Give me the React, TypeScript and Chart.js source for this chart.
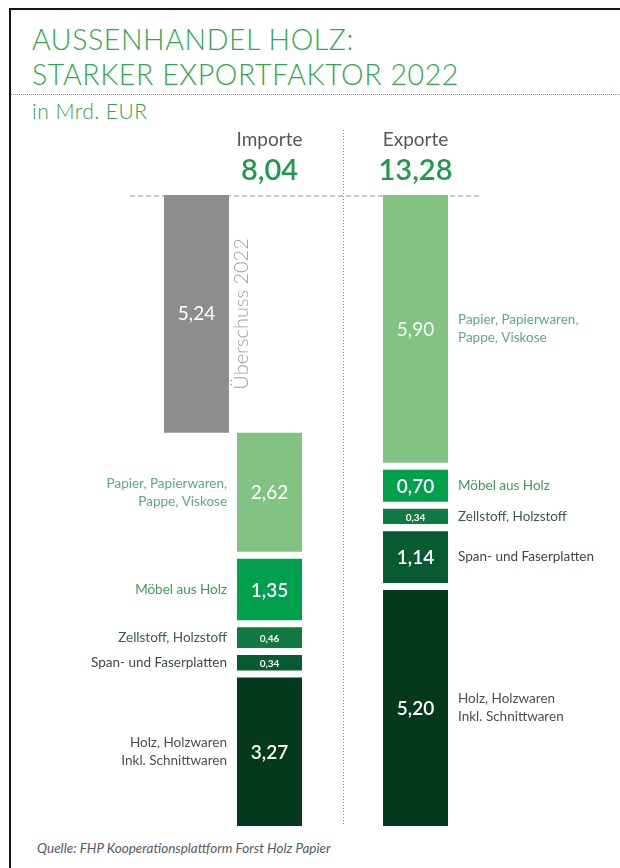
import React, { useEffect, useRef } from 'react';
import { Chart, registerables } from 'chart.js';

Chart.register(...registerables);

// ---- data ----
const columns = ['Überschuss 2022', 'Importe', '', 'Exporte'];
const categories = [
  'Holz, Holzwaren\nInkl. Schnittwaren',
  'Span- und Faserplatten',
  'Zellstoff, Holzstoff',
  'Möbel aus Holz',
  'Papier, Papierwaren,\nPappe, Viskose',
];
const importValues = [3.27, 0.34, 0.46, 1.35, 2.62];
const exportValues = [5.2, 1.14, 0.34, 0.7, 5.9];

// ---- styles ----
const barColors = ['#05391d', '#085a31', '#117a40', '#00a04d', '#82c383'];
const labelColors = ['#4b4d55', '#3d4a44', '#3c5a4a', '#3c9a5a', '#5aaa80'];
const valueWeights = ['600', '600', '600', '600', '400'];
const surplusColor = '#8e8d8c';
const GAP = 0.155; // visual gap between segments (value units)
const FONT = 'Lato, "Open Sans", sans-serif';

const fmt = (v: number) => v.toFixed(2).replace('.', ',');
const sum = (a: number[]) => a.reduce((s, v) => s + v, 0);

export default function App() {
  const canvasRef = useRef<HTMLCanvasElement | null>(null);

  useEffect(() => {
    const canvas = canvasRef.current;
    if (!canvas) return;

    const importTotal = sum(importValues);
    const exportTotal = sum(exportValues);

    let iStart = 0;
    let eStart = 0;
    const datasets: any[] = categories.map((c, i) => {
      const imp = [iStart, iStart + importValues[i]];
      iStart += importValues[i] + GAP;
      const exp = [eStart, eStart + exportValues[i]];
      eStart += exportValues[i] + GAP;
      return {
        label: c,
        data: [null, imp, null, exp],
        backgroundColor: barColors[i],
        grouped: false,
        categoryPercentage: 1,
        barPercentage: 0.89,
        borderWidth: 0,
      };
    });
    const importTop = iStart - GAP;
    const exportTop = eStart - GAP;
    datasets.push({
      label: columns[0],
      data: [[importTop, exportTop], null, null, null],
      backgroundColor: surplusColor,
      grouped: false,
      categoryPercentage: 1,
      barPercentage: 0.89,
      borderWidth: 0,
    });

    const decor = {
      id: 'decor',
      beforeDatasetsDraw(chart: any) {
        const { ctx, chartArea, scales } = chart;
        const x = scales.x;
        ctx.save();
        // top dashed grey line
        ctx.strokeStyle = '#c8c8c8';
        ctx.lineWidth = 2;
        ctx.setLineDash([5, 3]);
        ctx.beginPath();
        ctx.moveTo(chartArea.left - 30, chartArea.top + 1);
        ctx.lineTo(chartArea.right + 28, chartArea.top + 1);
        ctx.stroke();
        // vertical dotted divider
        const mx = Math.round(x.getPixelForValue(2)) + 0.5;
        ctx.strokeStyle = '#5cae74';
        ctx.lineWidth = 1;
        ctx.setLineDash([1, 2]);
        ctx.beginPath();
        ctx.moveTo(mx, 130);
        ctx.lineTo(mx, chartArea.bottom);
        ctx.stroke();
        ctx.restore();
      },
      afterDatasetsDraw(chart: any) {
        const { ctx, scales } = chart;
        const x = scales.x;
        ctx.save();
        ctx.textBaseline = 'middle';

        // headers
        [1, 3].forEach((col) => {
          const cx = x.getPixelForValue(col);
          ctx.textAlign = 'center';
          ctx.fillStyle = '#55575c';
          ctx.font = `400 19px ${FONT}`;
          ctx.fillText(columns[col], cx, 140);
          ctx.fillStyle = '#1f9a4c';
          ctx.font = `600 29px ${FONT}`;
          ctx.fillText(fmt(col === 1 ? importTotal : exportTotal), cx, 171);
        });

        // segments
        categories.forEach((cat, i) => {
          const meta = chart.getDatasetMeta(i);
          [1, 3].forEach((col) => {
            const el = meta.data[col];
            if (!el) return;
            const p = el.getProps(['x', 'y', 'base', 'width'], true);
            const top = Math.min(p.y, p.base);
            const bot = Math.max(p.y, p.base);
            const cy = (top + bot) / 2;
            const h = bot - top;
            const v = col === 1 ? importValues[i] : exportValues[i];
            ctx.fillStyle = '#ffffff';
            ctx.textAlign = 'center';
            ctx.font = h < 26 ? `700 10px ${FONT}` : `${valueWeights[i]} 19px ${FONT}`;
            ctx.fillText(fmt(v), p.x, cy + 1);

            const lines = cat.split('\n');
            ctx.fillStyle = labelColors[i];
            ctx.font = `400 13.5px ${FONT}`;
            const lh = 18;
            const y0 = cy - ((lines.length - 1) * lh) / 2;
            lines.forEach((ln, k) => {
              if (col === 1) {
                ctx.textAlign = 'right';
                ctx.fillText(ln, p.x - p.width / 2 - 10, y0 + k * lh);
              } else {
                ctx.textAlign = 'left';
                ctx.fillText(ln, p.x + p.width / 2 + 10, y0 + k * lh);
              }
            });
          });
        });

        // surplus
        const gm = chart.getDatasetMeta(categories.length);
        const g = gm.data[0];
        if (g) {
          const p = g.getProps(['x', 'y', 'base', 'width'], true);
          const cy = (p.y + p.base) / 2;
          ctx.fillStyle = '#ffffff';
          ctx.textAlign = 'center';
          ctx.font = `400 19px ${FONT}`;
          ctx.fillText(fmt(exportTotal - importTotal), p.x, cy);
          ctx.save();
          ctx.translate(p.x + p.width / 2 + 13, cy);
          ctx.rotate(-Math.PI / 2);
          ctx.fillStyle = '#9c9c9c';
          ctx.font = `300 20px ${FONT}`;
          ctx.fillText(columns[0], 0, 0);
          ctx.restore();
        }
        ctx.restore();
      },
    };

    const chart = new Chart(canvas, {
      type: 'bar',
      data: { labels: columns, datasets },
      options: {
        animation: false,
        responsive: false,
        devicePixelRatio: 1,
        layout: { padding: { left: 160, right: 168, top: 195, bottom: 42 } },
        plugins: { legend: { display: false }, tooltip: { enabled: false } },
        scales: {
          x: { display: false, offset: true, grid: { display: false } },
          y: { display: false, min: 0, max: exportTop, grid: { display: false } },
        },
      },
      plugins: [decor],
    });
    return () => chart.destroy();
  }, []);

  return (
    <div style={{ position: 'absolute', left: 0, top: 0, width: 620, height: 868, overflow: 'hidden', background: '#fff', fontFamily: FONT }}>
      <div style={{ position: 'absolute', left: 9, top: 8, width: 640, height: 900, borderLeft: '2px solid #151515', borderTop: '2px solid #151515' }} />
      <div style={{ position: 'absolute', left: 32, top: 21.5, fontSize: 28.5, lineHeight: '35px', letterSpacing: 0.6, fontWeight: 300, color: '#2ea84e', whiteSpace: 'nowrap' }}>
        AUSSENHANDEL HOLZ:<br />STARKER EXPORTFAKTOR 2022
      </div>
      <div style={{ position: 'absolute', left: 11, top: 94, width: 609, borderTop: '1px dotted #5cae74' }} />
      <div style={{ position: 'absolute', left: 32, top: 99, fontSize: 21, lineHeight: '24px', letterSpacing: 0.5, fontWeight: 300, color: '#35a052', whiteSpace: 'nowrap' }}>
        in Mrd. EUR
      </div>
      <div style={{ position: 'absolute', left: 37, top: 840, fontSize: 13.5, lineHeight: '16px', fontStyle: 'italic', color: '#55596a', whiteSpace: 'nowrap' }}>
        Quelle: FHP Kooperationsplattform Forst Holz Papier
      </div>
      <canvas ref={canvasRef} width={620} height={868} style={{ position: 'absolute', left: 0, top: 0, width: 620, height: 868 }} />
    </div>
  );
}
